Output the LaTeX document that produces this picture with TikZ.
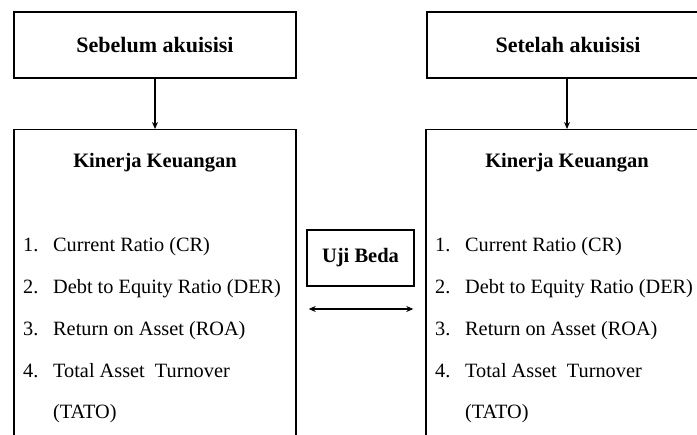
\documentclass[tikz,border=0pt]{standalone}
\usepackage{fontspec}
\setmainfont{Liberation Serif}
\usetikzlibrary{arrows.meta, positioning}

\begin{document}
\begin{tikzpicture}[
    x=1pt, y=-1pt,
    >={Stealth[length=7pt, width=6pt]},
    every node/.style={font=\fontsize{20.3}{24}\selectfont},
    box/.style={
        draw,
        line width=1.4pt,
        minimum width=282pt,
        inner sep=0pt
    },
    headbox/.style={box, minimum height=66pt, font=\fontsize{22}{26}\selectfont\bfseries},
    bigbox/.style={box, minimum height=330pt, anchor=north},
    title/.style={font=\fontsize{20.5}{24}\selectfont\bfseries, inner sep=0pt},
    item/.style={anchor=base west, inner sep=0pt},
    conn/.style={->, line width=1.4pt}
]
\clip (0,0) rectangle (697,435);

% atas
\node[headbox] (pre) at (155,45) {Sebelum akuisisi};
\node[headbox] (post) at (568,45) {Setelah akuisisi};

% kotak kinerja
\node[bigbox] (kpre) at (155,129) {};
\node[bigbox] (kpost) at (567,129) {};

\draw[conn] (pre.south) -- (pre.south |- kpre.north);
\draw[conn] (post.south -| kpost.north) -- (kpost.north);

\node[title] (hpre) at (155,163) {Kinerja Keuangan};
\node[title] (hpost) at (567,163) {Kinerja Keuangan};

% daftar rasio
\foreach \s/\dx in {pre/0, post/412} {
  \foreach \n/\txt [count=\i] in {1./Current Ratio (CR), 2./Debt to Equity Ratio (DER),
                                  3./Return on Asset (ROA), 4./Total Asset~~Turnover} {
    \node[item] (num-\s-\i) at ({23+\dx}, {252+41.7*(\i-1)}) {\n};
    \node[item] (txt-\s-\i) at ({53+\dx}, {252+41.7*(\i-1)}) {\txt};
  }
  \node[item] (txt-\s-5) at ({53+\dx}, {252+41.7*4}) {(TATO)};
}

% uji beda
\node[box, title, minimum width=107pt, minimum height=56pt] (uji) at (360.5,258) {Uji Beda};
\coordinate (mid) at (360.5,309);
\draw[<->, line width=1.4pt, shorten <=12pt, shorten >=12pt] (kpre.east |- mid) -- (kpost.west |- mid);
\end{tikzpicture}
\end{document}
